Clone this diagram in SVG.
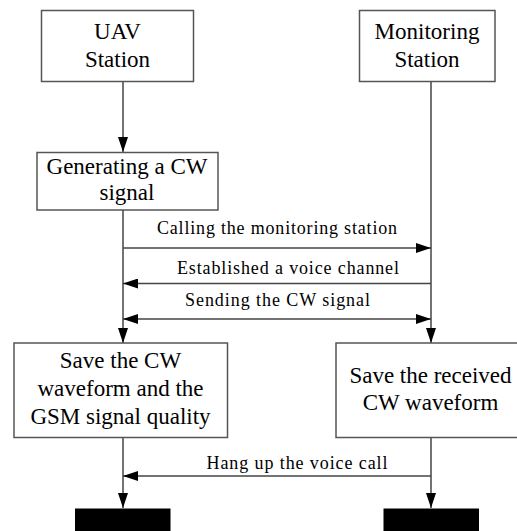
<svg xmlns="http://www.w3.org/2000/svg" width="517" height="531" viewBox="0 0 517 531">
<style>
.box{fill:#fff;stroke:#555;stroke-width:1.5}
.end{fill:#000;stroke:none}
.ln{stroke:#444;stroke-width:1.5;fill:none}
.nt{font-family:"Liberation Serif","Times New Roman",serif;font-size:23px;fill:#000;text-anchor:middle}
.mt{font-family:"Liberation Serif","Times New Roman",serif;font-size:18px;fill:#000;text-anchor:middle}
</style>
<defs>
<marker id="ah" markerWidth="15" markerHeight="10" refX="15" refY="5" orient="auto-start-reverse" markerUnits="userSpaceOnUse">
<path d="M0,0 L15,5 L0,10 Z" fill="#000"/>
</marker>
</defs>
<g id="connectors">
<line class="ln" x1="123" y1="81.5" x2="123" y2="152" marker-end="url(#ah)"/>
<line class="ln" x1="431" y1="81.5" x2="431" y2="343" marker-end="url(#ah)"/>
<line class="ln" x1="123" y1="210" x2="123" y2="343" marker-end="url(#ah)"/>
<line class="ln" x1="123" y1="248" x2="431" y2="248" marker-end="url(#ah)"/>
<line class="ln" x1="431" y1="283.5" x2="123" y2="283.5" marker-end="url(#ah)"/>
<line class="ln" x1="123" y1="319" x2="431" y2="319" marker-start="url(#ah)" marker-end="url(#ah)"/>
<line class="ln" x1="123" y1="437.5" x2="123" y2="508" marker-end="url(#ah)"/>
<line class="ln" x1="431" y1="437.5" x2="431" y2="508" marker-end="url(#ah)"/>
<line class="ln" x1="431" y1="476" x2="123" y2="476" marker-end="url(#ah)"/>
<text class="mt" x="277" y="234" textLength="240" lengthAdjust="spacing">Calling the monitoring station</text>
<text class="mt" x="288" y="274" textLength="222" lengthAdjust="spacing">Established a voice channel</text>
<text class="mt" x="277.5" y="306" textLength="185" lengthAdjust="spacing">Sending the CW signal</text>
<text class="mt" x="297" y="469" textLength="181" lengthAdjust="spacing">Hang up the voice call</text>
</g>
<g id="uav">
<rect class="box" x="41.5" y="10.5" width="152" height="71"/>
<text class="nt" x="117.5" y="39">UAV</text>
<text class="nt" x="117.5" y="67">Station</text>
</g>
<g id="monitoring">
<rect class="box" x="359.5" y="10.5" width="135.5" height="71"/>
<text class="nt" x="427" y="39">Monitoring</text>
<text class="nt" x="427" y="67">Station</text>
</g>
<g id="generate">
<rect class="box" x="37" y="152.5" width="181" height="57.5"/>
<text class="nt" x="127" y="174">Generating a CW</text>
<text class="nt" x="127" y="200">signal</text>
</g>
<g id="save-left">
<rect class="box" x="14" y="343" width="213.5" height="94.5"/>
<text class="nt" x="120.5" y="368">Save the CW</text>
<text class="nt" x="120.5" y="396">waveform and the</text>
<text class="nt" x="120.5" y="424">GSM signal quality</text>
</g>
<g id="save-right">
<rect class="box" x="336" y="343" width="190" height="94.5"/>
<text class="nt" x="430.5" y="383">Save the received</text>
<text class="nt" x="430.5" y="410">CW waveform</text>
</g>
<g id="end-left">
<rect class="end" x="75" y="508.5" width="95.5" height="23"/>
</g>
<g id="end-right">
<rect class="end" x="383.5" y="508.5" width="95.5" height="23"/>
</g>
</svg>
